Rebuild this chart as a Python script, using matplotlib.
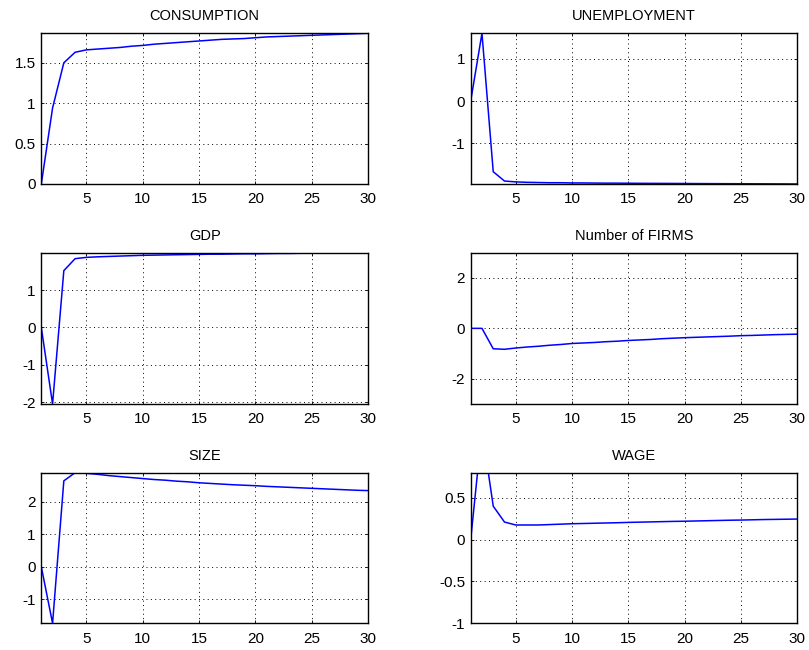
import matplotlib
matplotlib.use("Agg")
import matplotlib.pyplot as plt
import numpy as np

plt.rcParams['font.family'] = ['Liberation Sans', 'DejaVu Sans']
plt.rcParams['axes.unicode_minus'] = False

periods = list(range(1, 31))

consumption = [0, 0.94, 1.50, 1.63, 1.66, 1.67, 1.68, 1.69, 1.705, 1.715,
               1.73, 1.74, 1.75, 1.76, 1.77, 1.78, 1.79, 1.795, 1.80, 1.81,
               1.82, 1.825, 1.83, 1.835, 1.84, 1.845, 1.85, 1.855, 1.86, 1.865]
unemployment = [0, 1.6, -1.67, -1.89, -1.91, -1.92, -1.925, -1.93, -1.93, -1.935,
                -1.935, -1.938, -1.94, -1.94, -1.942, -1.944, -1.945, -1.946, -1.947, -1.948,
                -1.95, -1.951, -1.952, -1.953, -1.954, -1.955, -1.956, -1.957, -1.958, -1.96]
gdp = [0, -2.05, 1.52, 1.84, 1.875, 1.89, 1.90, 1.91, 1.92, 1.93,
       1.935, 1.94, 1.945, 1.95, 1.955, 1.96, 1.96, 1.965, 1.97, 1.97,
       1.975, 1.98, 1.98, 1.985, 1.985, 1.99, 1.99, 1.995, 1.995, 2.0]
firms = [0, 0, -0.81, -0.83, -0.78, -0.74, -0.71, -0.67, -0.64, -0.60,
         -0.58, -0.56, -0.53, -0.51, -0.48, -0.46, -0.44, -0.41, -0.39, -0.37,
         -0.355, -0.34, -0.325, -0.31, -0.29, -0.28, -0.265, -0.25, -0.24, -0.23]
size = [0, -1.74, 2.64, 2.89, 2.87, 2.84, 2.80, 2.77, 2.74, 2.71,
        2.68, 2.66, 2.63, 2.61, 2.58, 2.56, 2.54, 2.52, 2.505, 2.49,
        2.47, 2.455, 2.44, 2.425, 2.41, 2.395, 2.38, 2.365, 2.35, 2.34]
wage = [0, 1.32, 0.40, 0.21, 0.175, 0.175, 0.175, 0.18, 0.185, 0.19,
        0.193, 0.196, 0.199, 0.202, 0.206, 0.209, 0.212, 0.215, 0.218, 0.22,
        0.223, 0.226, 0.229, 0.232, 0.234, 0.237, 0.24, 0.242, 0.244, 0.246]

titles = ["CONSUMPTION", "UNEMPLOYMENT", "GDP", "Number of FIRMS", "SIZE", "WAGE"]
series = [consumption, unemployment, gdp, firms, size, wage]
ylims = [(0, max(consumption)), (min(unemployment), max(unemployment)),
         (min(gdp), max(gdp)), (-3, 3), (min(size), max(size)), (-1, 0.8)]
yticks = [[0, 0.5, 1, 1.5], [-1, 0, 1], [-2, -1, 0, 1], [-2, 0, 2],
          [-1, 0, 1, 2], [-1, -0.5, 0, 0.5]]
xticks = [5, 10, 15, 20, 25, 30]

fig = plt.figure(figsize=(8.09, 6.50), dpi=100)
W, H = 809, 650
cols = [41.3, 470.7]
rows = [(33.3, 184), (252.7, 404), (472.7, 623.3)]
width = 326.7

def fmt(v):
    return '%g' % v

for i, (t, y) in enumerate(zip(titles, series)):
    r, c = divmod(i, 2)
    top, bot = rows[r]
    ax = fig.add_axes([cols[c] / W, 1 - bot / H, width / W, (bot - top) / H])
    ax.plot(periods, y, color='#0000ff', lw=1.1, clip_on=True)
    ax.set_xlim(1, 30)
    ax.set_ylim(*ylims[i])
    ax.set_xticks(xticks)
    ax.set_xticklabels([fmt(v) for v in xticks])
    ax.set_yticks(yticks[i])
    ax.set_yticklabels([fmt(v) for v in yticks[i]])
    ax.grid(True, color='black', linestyle=(0, (1, 3.5)), linewidth=0.7)
    ax.tick_params(direction='in', length=2.5, width=0.6, labelsize=11,
                   top=True, right=True, colors='black')
    ax.tick_params(axis='x', pad=6)
    ax.tick_params(axis='y', pad=4)
    for sp in ax.spines.values():
        sp.set_linewidth(1.0)
        sp.set_color('black')
    ax.set_title(t, fontsize=10.5, pad=9.5)

fig.savefig("out.png", dpi=100)
